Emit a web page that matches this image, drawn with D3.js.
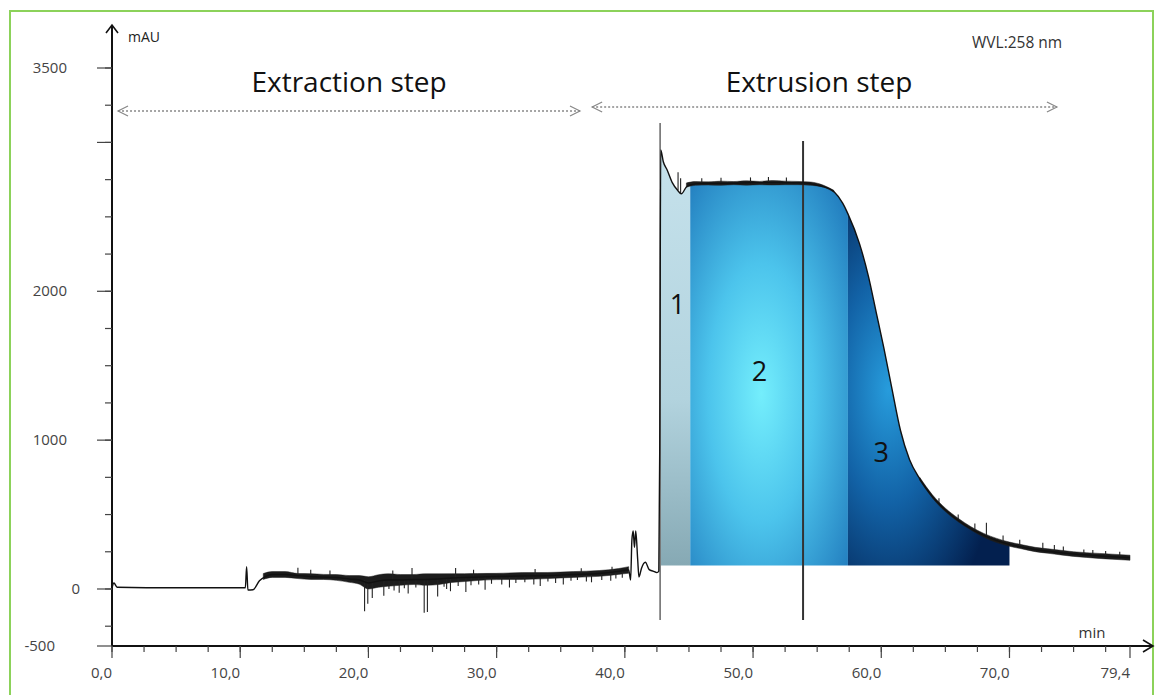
<!DOCTYPE html>
<html>
<head>
<meta charset="utf-8">
<script src="https://cdn.jsdelivr.net/npm/d3@7"></script>
<style>
body{margin:0;background:#fff;}
text{font-family:"Open Sans",sans-serif;}
</style>
</head>
<body>
<div id="chart"></div>
<script>
/////////////////////////////////////////////////////////////////////
/////////////////////////data//////////////
/////////////////////////////////////////////////////////////////////
// main trace, minutes / mAU
var traceT = [0, 0.15, 0.4, 5, 10.4, 10.5, 10.6, 11.0, 11.5, 12.0, 12.5, 13.5, 14.5, 15.5, 16.5, 17.5, 18.5, 19.3, 20.0, 20.8,
	21.5, 22.5, 23.5, 24.5, 25.5, 26.5, 27.5, 28.5, 30, 32, 34, 36, 38, 39.5, 40.3, 40.45, 40.55, 40.65, 40.75, 40.85,
	41.0, 41.1, 41.3, 41.6, 41.9, 42.2, 42.5, 42.65, 42.72, 42.8, 43.0, 43.3, 43.7, 44.1, 44.4, 44.8, 45.1, 46, 48, 50,
	52, 54, 55, 55.6, 56.3, 57.0, 57.4, 58.3, 59.0, 59.6, 60.2, 60.8, 61.5, 62.2, 63.0, 64.0, 65.0, 66.5, 68.0, 69.0,
	70.0, 72.0, 75.0, 77, 79.4];
var traceV = [7, 40, 12, 8, 8, 150, -7, -5, 55, 85, 97, 97, 90, 84, 80, 77, 67, 60, 40, 54,
	60, 60, 64, 64, 67, 74, 77, 80, 84, 87, 90, 97, 104, 118, 128, 60, 330, 390, 280, 390,
	200, 80, 140, 180, 130, 120, 110, 120, 930, 2950, 2870, 2815, 2730, 2680, 2655, 2700, 2715, 2725, 2725, 2730,
	2730, 2728, 2712, 2700, 2670, 2590, 2520, 2320, 2100, 1860, 1620, 1360, 1065, 870, 740, 620, 530, 430, 360, 325,
	300, 265, 235, 222, 210];

// noise envelope during extraction
var bandT  = [11.8, 12.5, 13.5, 14.5, 15.5, 16.5, 17.5, 18.5, 19.3, 20.0, 20.8, 21.5, 22.5, 23.5, 24.5, 25.5, 26.5, 27.5, 28.5, 30, 32, 34, 36, 38, 39.5, 40.3];
var bandLo = [64, 78, 78, 70, 64, 64, 58, 45, 32, 0, 12, 18, 25, 30, 25, 30, 44, 50, 57, 63, 64, 70, 78, 85, 98, 106];
var bandHi = [104, 117, 117, 104, 103, 98, 97, 90, 90, 82, 96, 102, 97, 97, 102, 102, 103, 103, 104, 105, 110, 111, 117, 124, 137, 150];

// noise envelope on the plateau
var plateauT  = [44.8, 45.5, 46.5, 47.5, 48.5, 49.5, 50.5, 51.5, 52.5, 53.5, 54.5, 55.5, 56.3];
var plateauLo = [2700, 2712, 2714, 2712, 2716, 2713, 2716, 2714, 2716, 2716, 2712, 2700, 2666];
var plateauHi = [2728, 2737, 2735, 2740, 2737, 2742, 2738, 2744, 2740, 2738, 2734, 2712, 2678];

// noise envelope on the tail
var tailT  = [63, 64, 65, 66, 67, 68, 69, 70, 71, 72, 73, 74, 75, 76, 77, 78, 79.4];
var tailLo = [730, 610, 520, 452, 396, 348, 312, 287, 269, 251, 240, 229, 219, 212, 205, 200, 193];
var tailHi = [750, 632, 543, 475, 418, 373, 340, 315, 297, 280, 270, 260, 250, 244, 239, 234, 227];

// single spikes: time, from, to
var spikeT    = [14.5, 15.5, 17.0, 19.7, 19.95, 20.3, 21.2, 21.6, 21.9, 22.0, 22.4, 22.8, 23.1, 23.4, 23.7, 24.35, 24.6, 25.4, 25.9, 26.1,
	26.4, 26.8, 27.0, 27.6, 28.0, 28.2, 28.6, 29.1, 29.6, 30.4, 31.0, 31.5, 32.2, 32.9, 33.0, 33.4, 34.0, 34.6, 35.2, 35.8,
	36.3, 36.6, 37.0, 37.4, 38.2, 38.9, 39.0, 39.3, 39.8,
	44.15, 44.35, 46.0, 47.5, 49.8, 51.2, 52.6,
	64.5, 66.0, 67.3, 68.2, 69.5, 70.8, 72.6, 73.5, 74.2, 75.8, 76.5, 77.5, 78.6];
var spikeFrom = [90, 84, 78, 60, 50, 40, 55, 60, 60, 60, 60, 62, 62, 64, 64, 64, 64, 66, 70, 70,
	72, 74, 75, 77, 78, 78, 80, 82, 82, 84, 85, 86, 87, 88, 88, 88, 90, 91, 92, 95,
	97, 97, 99, 100, 102, 110, 110, 112, 120,
	2680, 2660, 2725, 2725, 2728, 2730, 2730,
	575, 463, 400, 360, 318, 290, 262, 255, 243, 228, 225, 220, 215];
var spikeTo   = [143, 130, 125, -150, -100, -60, -45, 0, 125, -10, -25, 5, -30, 141, 10, -160, -155, -50, 15, 0,
	-15, 141, 20, -20, 25, 130, 30, -5, 35, 30, 10, 40, 45, 30, 135, 20, 50, 40, 30, 55,
	60, 140, 50, 45, 60, 55, 150, 70, 75,
	2800, 2760, 2760, 2762, 2765, 2768, 2764,
	610, 500, 440, 445, 360, 330, 310, 295, 285, 265, 262, 255, 250];

// fraction cuts (minutes) and fraction baseline
var fractionCuts = [42.8, 45.1, 57.4, 70.0];
var fractionNames = ["1", "2", "3"];
var fractionBase = 157;

// vertical event markers
var markerT   = [42.75, 53.9];
var markerTop = [3130, 3010];
var markerBottom = -208;

// axis ticks
var xLabelVals = [0, 10, 20, 30, 40, 50, 60, 70, 79.4];
var xLabels = ["0,0", "10,0", "20,0", "30,0", "40,0", "50,0", "60,0", "70,0", "79,4"];
var yLabelVals = [3500, 2000, 1000, 0, -383];
var yLabels = ["3500", "2000", "1000", "0", "-500"];
var yMajorVals = [3500, 3000, 2000, 1000, 0, -383];

/////////////////////////////////////////////////////////////////////
/////////////////////////global variables/////////////////////////////
/////////////////////////////////////////////////////////////////////
var wdim = 1155, hdim = 695;
var x = d3.scaleLinear().domain([0, 79.4]).range([112, 1130]);
var y = d3.scaleLinear().domain([-383, 3500]).range([646, 68]);
var svg;

function build_canvas(){
	svg = d3.select("#chart").append("svg")
		.attr("width", wdim)
		.attr("height", hdim);

	// green frame
	svg.append("rect")
		.attr("x", 10).attr("y", 11)
		.attr("width", 1143).attr("height", 720)
		.attr("fill", "none")
		.attr("stroke", "#8cd25a")
		.attr("stroke-width", 2);

	var defs = svg.append("defs");

	var g1 = defs.append("linearGradient").attr("id", "frac1")
		.attr("x1", 0).attr("y1", 0).attr("x2", 0).attr("y2", 1);
	g1.append("stop").attr("offset", "0%").attr("stop-color", "#c6e2ec");
	g1.append("stop").attr("offset", "60%").attr("stop-color", "#b2d3de");
	g1.append("stop").attr("offset", "100%").attr("stop-color", "#86a9b4");

	var g2 = defs.append("radialGradient").attr("id", "frac2")
		.attr("cx", 0.45).attr("cy", 0.55).attr("r", 0.75);
	g2.append("stop").attr("offset", "0%").attr("stop-color", "#74eefc");
	g2.append("stop").attr("offset", "45%").attr("stop-color", "#4cc4ec");
	g2.append("stop").attr("offset", "100%").attr("stop-color", "#1f78bb");

	var g3 = defs.append("radialGradient").attr("id", "frac3")
		.attr("cx", 0.25).attr("cy", 0.5).attr("r", 0.72);
	g3.append("stop").attr("offset", "0%").attr("stop-color", "#279cdc");
	g3.append("stop").attr("offset", "45%").attr("stop-color", "#1262a6");
	g3.append("stop").attr("offset", "100%").attr("stop-color", "#03204f");
}

/////////////////////////////////////////////////////////////////
/////////////////////fraction areas//////////////////////////////
/////////////////////////////////////////////////////////////////
function draw_fractions(){
	var pts = traceT.map(function(t, i){ return [t, traceV[i]]; });
	var area = d3.area()
		.curve(d3.curveMonotoneX)
		.x(function(d){ return x(d[0]); })
		.y0(y(fractionBase))
		.y1(function(d){ return y(d[1]); });

	for(var i = 0; i < fractionNames.length; i++){
		var a = fractionCuts[i], b = fractionCuts[i+1];
		var seg = pts.filter(function(d){ return d[0] >= a && d[0] <= b; });
		svg.append("path")
			.attr("d", area(seg))
			.attr("fill", "url(#frac" + (i+1) + ")")
			.attr("stroke", "none");
	}

	// labels
	var lx = [44.1, 50.5, 60.0];
	var lv = [1850, 1400, 850];
	for(var j = 0; j < fractionNames.length; j++){
		svg.append("text")
			.attr("x", x(lx[j]))
			.attr("y", y(lv[j]))
			.attr("text-anchor", "middle")
			.style("font-size", "27px")
			.style("fill", "#111")
			.text(fractionNames[j]);
	}
}

/////////////////////////////////////////////////////////////////
/////////////////////trace + noise///////////////////////////////
/////////////////////////////////////////////////////////////////
function draw_band(T, lo, hi){
	var area = d3.area()
		.curve(d3.curveMonotoneX)
		.x(function(d){ return x(d); })
		.y0(function(d, i){ return y(lo[i]); })
		.y1(function(d, i){ return y(hi[i]); });
	svg.append("path")
		.attr("d", area(T))
		.attr("fill", "#1c1c1c")
		.attr("stroke", "#1c1c1c")
		.attr("stroke-width", 0.5);
}

function draw_trace(){
	// event markers
	svg.selectAll(".marker")
		.data(markerT)
		.enter().append("line")
		.attr("class", "marker")
		.attr("x1", function(d){ return x(d); })
		.attr("x2", function(d){ return x(d); })
		.attr("y1", function(d, i){ return y(markerTop[i]); })
		.attr("y2", y(markerBottom))
		.attr("stroke", function(d, i){ return i == 0 ? "#666" : "#333"; })
		.attr("stroke-width", function(d, i){ return i == 0 ? 1.5 : 2; });

	draw_band(bandT, bandLo, bandHi);
	draw_band(plateauT, plateauLo, plateauHi);
	draw_band(tailT, tailLo, tailHi);

	svg.selectAll(".spike")
		.data(spikeT)
		.enter().append("line")
		.attr("class", "spike")
		.attr("x1", function(d){ return x(d); })
		.attr("x2", function(d){ return x(d); })
		.attr("y1", function(d, i){ return y(spikeFrom[i]); })
		.attr("y2", function(d, i){ return y(spikeTo[i]); })
		.attr("stroke", "#222")
		.attr("stroke-width", 1.1);

	var line = d3.line()
		.curve(d3.curveMonotoneX)
		.x(function(d){ return x(d); })
		.y(function(d, i){ return y(traceV[i]); });
	svg.append("path")
		.attr("d", line(traceT))
		.attr("fill", "none")
		.attr("stroke", "#111")
		.attr("stroke-width", 1.4);
}

/////////////////////////////////////////////////////////////////
/////////////////////axes////////////////////////////////////////
/////////////////////////////////////////////////////////////////
function draw_axes(){
	var x0 = x(0), yb = y(-383);
	var ax = svg.append("g").attr("stroke", "#111").attr("fill", "none");

	ax.append("line").attr("x1", x0).attr("x2", x0).attr("y1", yb).attr("y2", 25).attr("stroke-width", 2);
	ax.append("polyline").attr("points", (x0-6) + ",33 " + x0 + ",25 " + (x0+6) + ",33").attr("stroke-width", 1.6);
	ax.append("line").attr("x1", x0).attr("x2", 1153).attr("y1", yb).attr("y2", yb).attr("stroke-width", 2);
	ax.append("polyline").attr("points", "1143," + (yb-6) + " 1153," + yb + " 1143," + (yb+6)).attr("stroke-width", 1.6);

	// x ticks
	var minor = d3.range(0, 79.4, 2.5);
	ax.selectAll(".xminor").data(minor).enter().append("line")
		.attr("x1", function(d){ return x(d); }).attr("x2", function(d){ return x(d); })
		.attr("y1", yb).attr("y2", yb + 6).attr("stroke", "#444").attr("stroke-width", 1.2);
	ax.selectAll(".xmajor").data(xLabelVals).enter().append("line")
		.attr("x1", function(d){ return x(d); }).attr("x2", function(d){ return x(d); })
		.attr("y1", yb).attr("y2", yb + 12).attr("stroke", "#444").attr("stroke-width", 1.2);
	svg.selectAll(".xlab").data(xLabels).enter().append("text")
		.attr("x", function(d, i){ return x(xLabelVals[i]); })
		.attr("y", 678)
		.attr("text-anchor", "end")
		.style("font-size", "15px")
		.style("fill", "#444")
		.text(function(d){ return d; });

	// y ticks
	var yminor = d3.range(-250, 3501, 250);
	ax.selectAll(".yminor").data(yminor).enter().append("line")
		.attr("x1", x0 - 7).attr("x2", x0)
		.attr("y1", function(d){ return y(d); }).attr("y2", function(d){ return y(d); })
		.attr("stroke", "#444").attr("stroke-width", 1.2);
	ax.selectAll(".ymajor").data(yMajorVals).enter().append("line")
		.attr("x1", x0 - 15).attr("x2", x0)
		.attr("y1", function(d){ return y(d); }).attr("y2", function(d){ return y(d); })
		.attr("stroke", "#444").attr("stroke-width", 1.2);
	var labRight = [67, 67, 67, 80, 55];
	svg.selectAll(".ylab").data(yLabels).enter().append("text")
		.attr("x", function(d, i){ return labRight[i]; })
		.attr("y", function(d, i){ return y(yLabelVals[i]) + 5; })
		.attr("text-anchor", "end")
		.style("font-size", "15px")
		.style("fill", "#444")
		.text(function(d){ return d; });

	svg.append("text").attr("x", 128).attr("y", 42).style("font-size", "14px").style("fill", "#222").text("mAU");
	svg.append("text").attr("x", 1092).attr("y", 638).attr("text-anchor", "middle").style("font-size", "15px").style("fill", "#333").text("min");
	svg.append("text").attr("x", 972).attr("y", 48).style("font-size", "15.5px").style("fill", "#333").text("WVL:258 nm");
}

/////////////////////////////////////////////////////////////////
/////////////////////step annotations////////////////////////////
/////////////////////////////////////////////////////////////////
function draw_step(t0, t1, v, label, cx){
	var ya = y(v), xa = x(t0), xb = x(t1);
	var g = svg.append("g").attr("stroke", "#888").attr("fill", "none");
	g.append("line").attr("x1", xa).attr("x2", xb).attr("y1", ya).attr("y2", ya)
		.attr("stroke-width", 1.3).attr("stroke-dasharray", "2,2");
	g.append("polyline").attr("points", (xa+10) + "," + (ya-5) + " " + xa + "," + ya + " " + (xa+10) + "," + (ya+5)).attr("stroke-width", 1.2);
	g.append("polyline").attr("points", (xb-10) + "," + (ya-5) + " " + xb + "," + ya + " " + (xb-10) + "," + (ya+5)).attr("stroke-width", 1.2);
	svg.append("text")
		.attr("x", cx)
		.attr("y", 92)
		.attr("text-anchor", "middle")
		.style("font-size", "28px")
		.style("fill", "#111")
		.text(label);
}

function main(){
	build_canvas();
	draw_fractions();
	draw_trace();
	draw_axes();
	draw_step(0.47, 36.5, 3211, "Extraction step", 349);
	draw_step(37.45, 73.7, 3238, "Extrusion step", 819);
}
main();
</script>
</body>
</html>
